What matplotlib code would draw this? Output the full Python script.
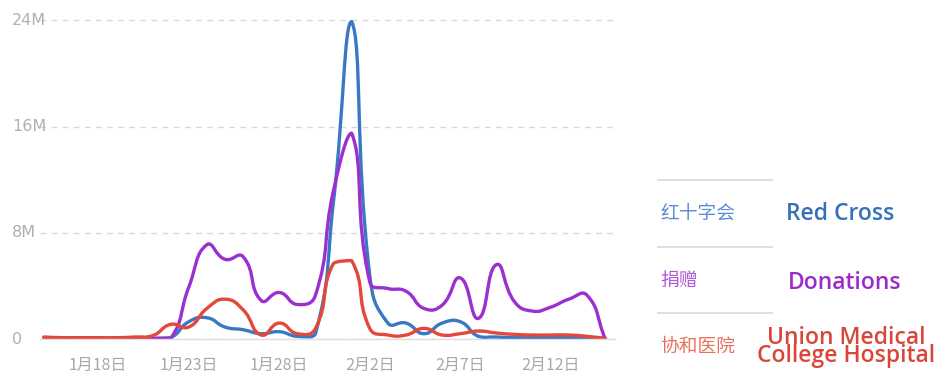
import numpy as np
import matplotlib
matplotlib.use("Agg")
import matplotlib.pyplot as plt
from matplotlib.path import Path
from matplotlib.patches import PathPatch
import matplotlib.transforms as mtransforms

plt.rcParams['font.family'] = ['Noto Sans CJK SC', 'DejaVu Sans']

# ---- data (millions), daily from Jan 15 to Feb 15 ----
dates = ['1/15', '1/16', '1/17', '1/18', '1/19', '1/20', '1/21', '1/22', '1/23', '1/24',
         '1/25', '1/26', '1/27', '1/28', '1/29', '1/30', '1/31', '2/1', '2/2', '2/3',
         '2/4', '2/5', '2/6', '2/7', '2/8', '2/9', '2/10', '2/11', '2/12', '2/13',
         '2/14', '2/15']
red_cross = [0.1, 0.05, 0.05, 0.05, 0.05, 0.05, 0.05, 0.1, 1.3, 1.6,
             0.9, 0.7, 0.4, 0.55, 0.2, 0.4, 10.4, 23.9, 4.8, 1.2,
             1.2, 0.4, 1.2, 1.3, 0.2, 0.15, 0.1, 0.1, 0.1, 0.1,
             0.1, 0.05]
donations = [0.1, 0.05, 0.05, 0.05, 0.05, 0.05, 0.05, 0.05, 3.9, 7.1,
             6.0, 6.2, 2.9, 3.5, 2.6, 3.3, 11.2, 15.5, 4.3, 3.8,
             3.6, 2.3, 2.55, 4.6, 1.55, 5.6, 2.8, 2.1, 2.4, 3.0,
             3.3, 0.05]
union_hospital = [0.15, 0.1, 0.1, 0.1, 0.1, 0.15, 0.25, 1.1, 0.9, 2.3,
                  3.0, 2.2, 0.3, 1.2, 0.4, 0.8, 5.7, 5.9, 0.8, 0.3,
                  0.3, 0.8, 0.3, 0.4, 0.6, 0.45, 0.35, 0.3, 0.3, 0.3,
                  0.2, 0.05]
tick_positions = [3, 8, 13, 18, 23, 28]
tick_labels = ['1月18日', '1月23日', '1月28日', '2月2日', '2月7日', '2月12日']
y_ticks = [0, 8, 16, 24]
y_labels = ['0', '8M', '16M', '24M']

series_cn = ['红十字会', '捐赠', '协和医院']
series_en = ['Red Cross', 'Donations', 'Union Medical\nCollege Hospital']
line_colors = ['#3a78c2', '#9b30d0', '#e4483a']
cn_colors = ['#5a8ed0', '#b05ad8', '#e8705e']
en_colors = ['#3570b8', '#9a2bc8', '#d9463a']

W, H = 939, 374
fig = plt.figure(figsize=(W / 100, H / 100), dpi=100)
ax_left, ax_right = 40, 615
ax_bottom, ax_top = 339, 7
ax = fig.add_axes([ax_left / W, (H - ax_bottom) / H, (ax_right - ax_left) / W,
                   (ax_bottom - ax_top) / H])
ax.set_xlim(-0.22, 31.55)
ax.set_ylim(0, 25)


def smooth_path(xs, ys, sx=18.1, sy=13.29, smooth=0.5):
    """Smooth bezier through the points; control points weighted by
    on-screen segment lengths and clamped to the series' range."""
    px = np.asarray(xs, float) * sx
    py = np.asarray(ys, float) * sy
    n = len(px)
    ymin, ymax = py.min(), py.max()
    cin, cout = [], []
    for i in range(n):
        p0 = np.array([px[max(i - 1, 0)], py[max(i - 1, 0)]])
        p1 = np.array([px[i], py[i]])
        p2 = np.array([px[min(i + 1, n - 1)], py[min(i + 1, n - 1)]])
        v = (p2 - p0) * smooth
        d0 = np.hypot(*(p1 - p0))
        d1 = np.hypot(*(p2 - p1))
        s = d0 + d1
        if s == 0:
            a, b = p1.copy(), p1.copy()
        else:
            a = p1 - v * d0 / s
            b = p1 + v * d1 / s
        a[1] = np.clip(a[1], ymin, ymax)
        b[1] = np.clip(b[1], ymin, ymax)
        cin.append(a)
        cout.append(b)
    verts = [(px[0], py[0])]
    codes = [Path.MOVETO]
    for i in range(n - 1):
        verts += [tuple(cout[i]), tuple(cin[i + 1]), (px[i + 1], py[i + 1])]
        codes += [Path.CURVE4] * 3
    verts = np.array(verts)
    verts[:, 0] /= sx
    verts[:, 1] /= sy
    return Path(verts, codes)


x = np.arange(len(dates))
ax.set_yticks(y_ticks)
ax.set_yticklabels([])
ax.yaxis.grid(True, color='#d8d8d8', linestyle=(0, (4, 4)), linewidth=1.0)
ax.set_axisbelow(True)
for sp in ['top', 'right', 'left']:
    ax.spines[sp].set_visible(False)
ax.spines['bottom'].set_color('#dddddd')
ax.spines['bottom'].set_linewidth(1.0)
ax.tick_params(axis='y', length=0)
ax.tick_params(axis='x', length=0, pad=13, labelsize=11.5, colors='#a8a8a8')
ax.set_xticks(tick_positions)
ax.set_xticklabels(tick_labels)

# y labels left-aligned at figure x=12
trans = mtransforms.blended_transform_factory(fig.transFigure, ax.transData)
for yv, lab in zip(y_ticks, y_labels):
    ax.text(12 / W, yv, lab, transform=trans, ha='left', va='center',
            fontsize=11.5, color='#b0b0b0', family=['DejaVu Sans'])

for vals, col in zip([red_cross, donations, union_hospital], line_colors):
    pth = smooth_path(x, vals)
    ax.add_patch(PathPatch(pth, facecolor='none', edgecolor=col, lw=2.4,
                           capstyle='round', joinstyle='round'))

# legend-like labels on the right
line_ys = [180, 246.5, 313]
for yy in line_ys:
    fig.add_artist(plt.Line2D([658 / W, 772 / W], [1 - yy / H, 1 - yy / H],
                              color='#d9d9d9', lw=1.2))
cn_ys = [213, 280.5, 346.5]
for t, c, yy in zip(series_cn, cn_colors, cn_ys):
    fig.text(660 / W, 1 - yy / H, t, ha='left', va='center', fontsize=13.5,
             color=c)
en_font = ['Open Sans', 'DejaVu Sans']
fig.text(840 / W, 1 - 214 / H, series_en[0], ha='center', va='center',
         fontsize=16.5, color=en_colors[0], family=en_font, weight='semibold')
fig.text(845 / W, 1 - 283 / H, series_en[1], ha='center', va='center',
         fontsize=16.5, color=en_colors[1], family=en_font, weight='semibold')
fig.text(846 / W, 1 - 347 / H, series_en[2], ha='center', va='center',
         fontsize=16.5, color=en_colors[2], family=en_font, weight='semibold',
         linespacing=0.72)

fig.savefig('out.png', dpi=100)
